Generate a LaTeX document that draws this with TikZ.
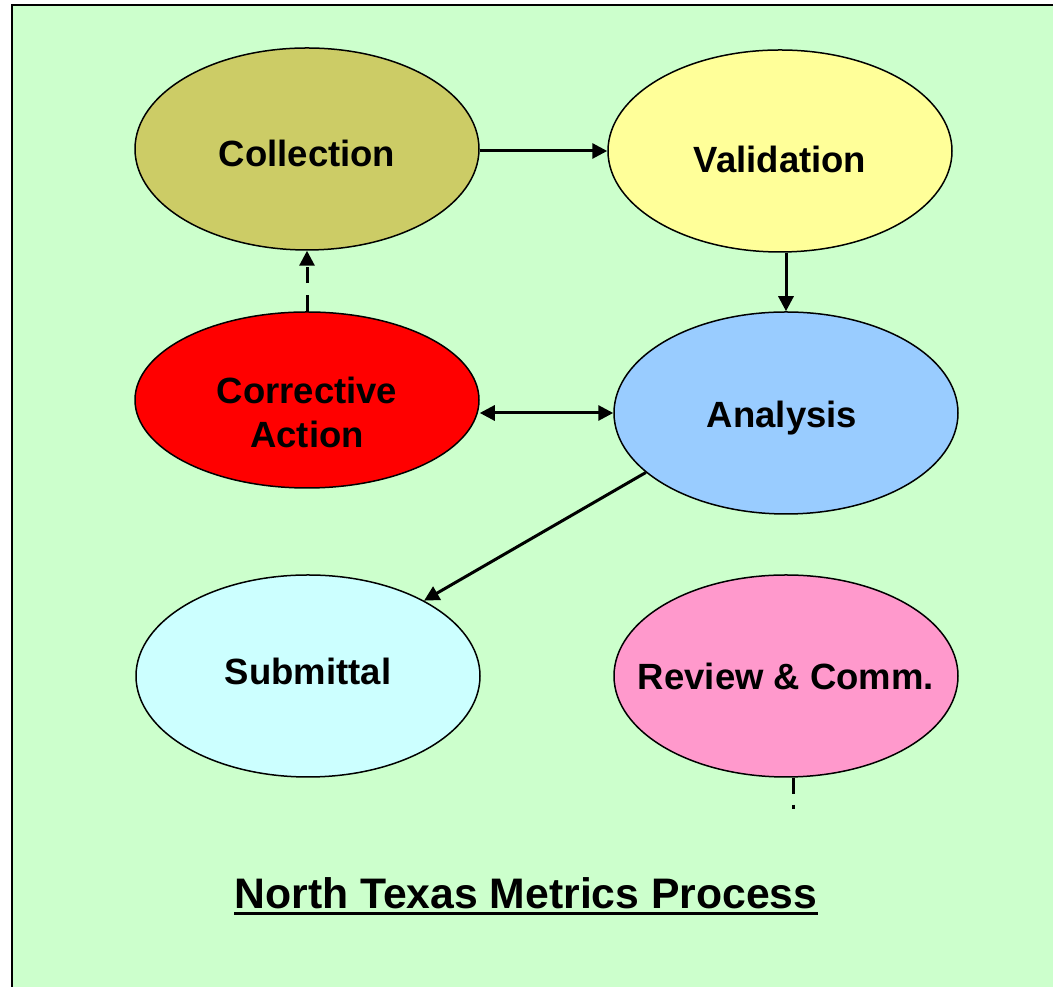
\documentclass[tikz,border=0pt]{standalone}
\usepackage{fontspec}
\setmainfont{Liberation Sans}
\usetikzlibrary{positioning,shapes.geometric,arrows.meta,calc}
\definecolor{ntbg}{HTML}{CCFFCC}
\definecolor{ntolive}{HTML}{CCCC66}
\definecolor{ntyellow}{HTML}{FFFF99}
\definecolor{ntred}{HTML}{FF0000}
\definecolor{ntblue}{HTML}{99CCFF}
\definecolor{ntcyan}{HTML}{CCFFFF}
\definecolor{ntpink}{HTML}{FF99CC}
\tikzset{
  bub/.style  ={ellipse, draw=black, line width=1.5pt,
                minimum width=344pt, minimum height=202pt, inner sep=0pt},
  txt/.style  ={align=center, inner sep=0pt,
                font=\fontsize{36.5}{44}\selectfont\bfseries},
  fl/.style   ={-{Triangle[length=15pt,width=15pt]}, line width=3pt, draw=black},
  flb/.style  ={{Triangle[length=15pt,width=15pt]}-{Triangle[length=15pt,width=15pt]},
                line width=3pt, draw=black},
  fld/.style  ={fl, dash pattern=on 16pt off 12pt},
  ttl/.style  ={font=\fontsize{42.7}{50}\selectfont\bfseries, inner sep=0pt}
}

\begin{document}
\begin{tikzpicture}[x=1pt,y=1pt]
  \useasboundingbox (0,0) rectangle (1053,987);
  \draw[line width=2pt, fill=ntbg] (12,982) rectangle (1075,-20);

  % process bubbles, labels set on top
  \node[bub,fill=ntolive, label={[txt,yshift=-4pt]center:Collection}]  (coll) at (307,838) {};
  \node[bub,fill=ntyellow,label={[txt,yshift=-8pt]center:Validation}]  (val)  at (780,836) {};
  \node[bub,fill=ntred,minimum height=176pt,
        label={[txt,yshift=-12pt]center:Corrective\\Action}]          (corr) at (307,587) {};
  \node[bub,fill=ntblue,  label={[txt,xshift=-4pt,yshift=-5pt]center:Analysis}] (ana) at (786,574) {};
  \node[bub,fill=ntcyan,  label={[txt,yshift=5pt]center:Submittal}]    (sub)  at (308,311) {};
  \node[bub,fill=ntpink,  label={[txt]center:Review \& Comm.}]         (rev)  at (786,311) {};

  \draw[fl]  ([yshift=-2pt]coll.east) -- ([yshift=-2pt]coll.east -| val.west);
  \draw[fl]  (ana.north |- val.south) -- (ana.north);
  \draw[flb] (ana.west -| corr.east) -- (ana.west);
  \draw[fld] (corr.north) -- (coll.south);
  \draw[fl]  (ana.203) -- (sub.33);

  \coordinate (revtail) at (793,178);
  \draw[line width=3pt, dash pattern=on 16pt off 11pt] (revtail |- rev.south) -- (revtail);

  \node[ttl] (title) at (526,94) {North Texas Metrics Process};
  \draw[line width=3pt] ([yshift=-5pt]title.base west) -- ([yshift=-5pt]title.base east);
\end{tikzpicture}
\end{document}
